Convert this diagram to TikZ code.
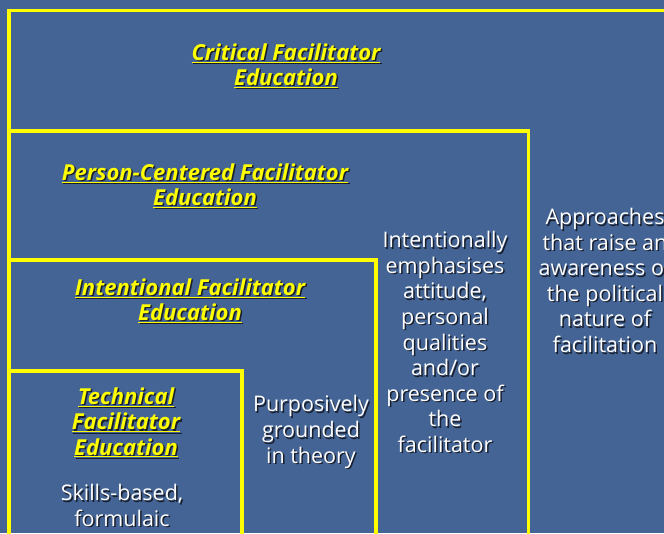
\documentclass[tikz,border=0pt]{standalone}
\usepackage{fontspec}
\setmainfont{Open Sans}
\usetikzlibrary{calc}

\definecolor{slide}{RGB}{67,100,148}
\definecolor{hilite}{RGB}{255,255,0}
\definecolor{shade}{RGB}{25,30,45}

\tikzset{
  frame/.style={draw=hilite, line width=3.5pt},
  heading/.style={text=hilite, align=center, inner sep=0pt,
    font=\fontsize{22}{25.3}\selectfont\bfseries\itshape},
  remark/.style={text=white, align=center, inner sep=0pt,
    font=\fontsize{21.5}{25.6}\selectfont},
}

% text with a dark copy behind it
\newcommand{\castnode}[4]{%
  \node[#2, text=shade] (#1-cast) at ($(#3)+(1.5,1.5)$) {#4};
  \node[#2] (#1) at (#3) {#4};
}

\begin{document}
\begin{tikzpicture}[x=1pt, y=-1pt]
		\fill[slide] (0, 0) rectangle (664, 533);
		\clip (0, 0) rectangle (664, 533);

		\coordinate (critical) at (9, 10.5);
		\coordinate (person) at (9, 131);
		\coordinate (intentional) at (9, 260);
		\coordinate (technical) at (9, 371);
		\coordinate (outside) at (720, 600);

		\draw[frame] (critical) rectangle (outside);
		\draw[frame] (person) rectangle (528.5, 600);
		\draw[frame] (intentional) rectangle (376, 600);
		\draw[frame] (technical) rectangle (242, 600);

		\coordinate (critical-c) at (286, 65.5);
		\coordinate (person-c) at (205, 185.5);
		\coordinate (intentional-c) at (190, 300.5);
		\coordinate (technical-c) at (126, 422.5);
		\coordinate (skills-c) at (122, 505.5);
		\coordinate (theory-c) at (311, 432);
		\coordinate (presence-c) at (445, 342);
		\coordinate (political-c) at (605, 280.5);

		% the four kinds of education
		\castnode{critical-t}{heading}{critical-c}{\underline{Critical Facilitator}\\\underline{Education}}
		\castnode{person-t}{heading}{person-c}{\underline{Person-Centered Facilitator}\\\underline{Education}}
		\castnode{intentional-t}{heading}{intentional-c}{\underline{Intentional Facilitator}\\\underline{Education}}
		\castnode{technical-t}{heading}{technical-c}{\underline{Technical}\\\underline{Facilitator}\\\underline{Education}}

		% what each one adds
		\castnode{skills-t}{remark}{skills-c}{Skills-based,\\formulaic}
		\castnode{theory-t}{remark}{theory-c}{Purposively\\grounded\\in theory}
		\castnode{presence-t}{remark}{presence-c}{Intentionally\\emphasises\\attitude,\\personal\\qualities\\and/or\\presence of\\the\\facilitator}
		\castnode{political-t}{remark}{political-c}{Approaches\\that raise an\\awareness of\\the political\\nature of\\facilitation}
	\end{tikzpicture}
\end{document}
